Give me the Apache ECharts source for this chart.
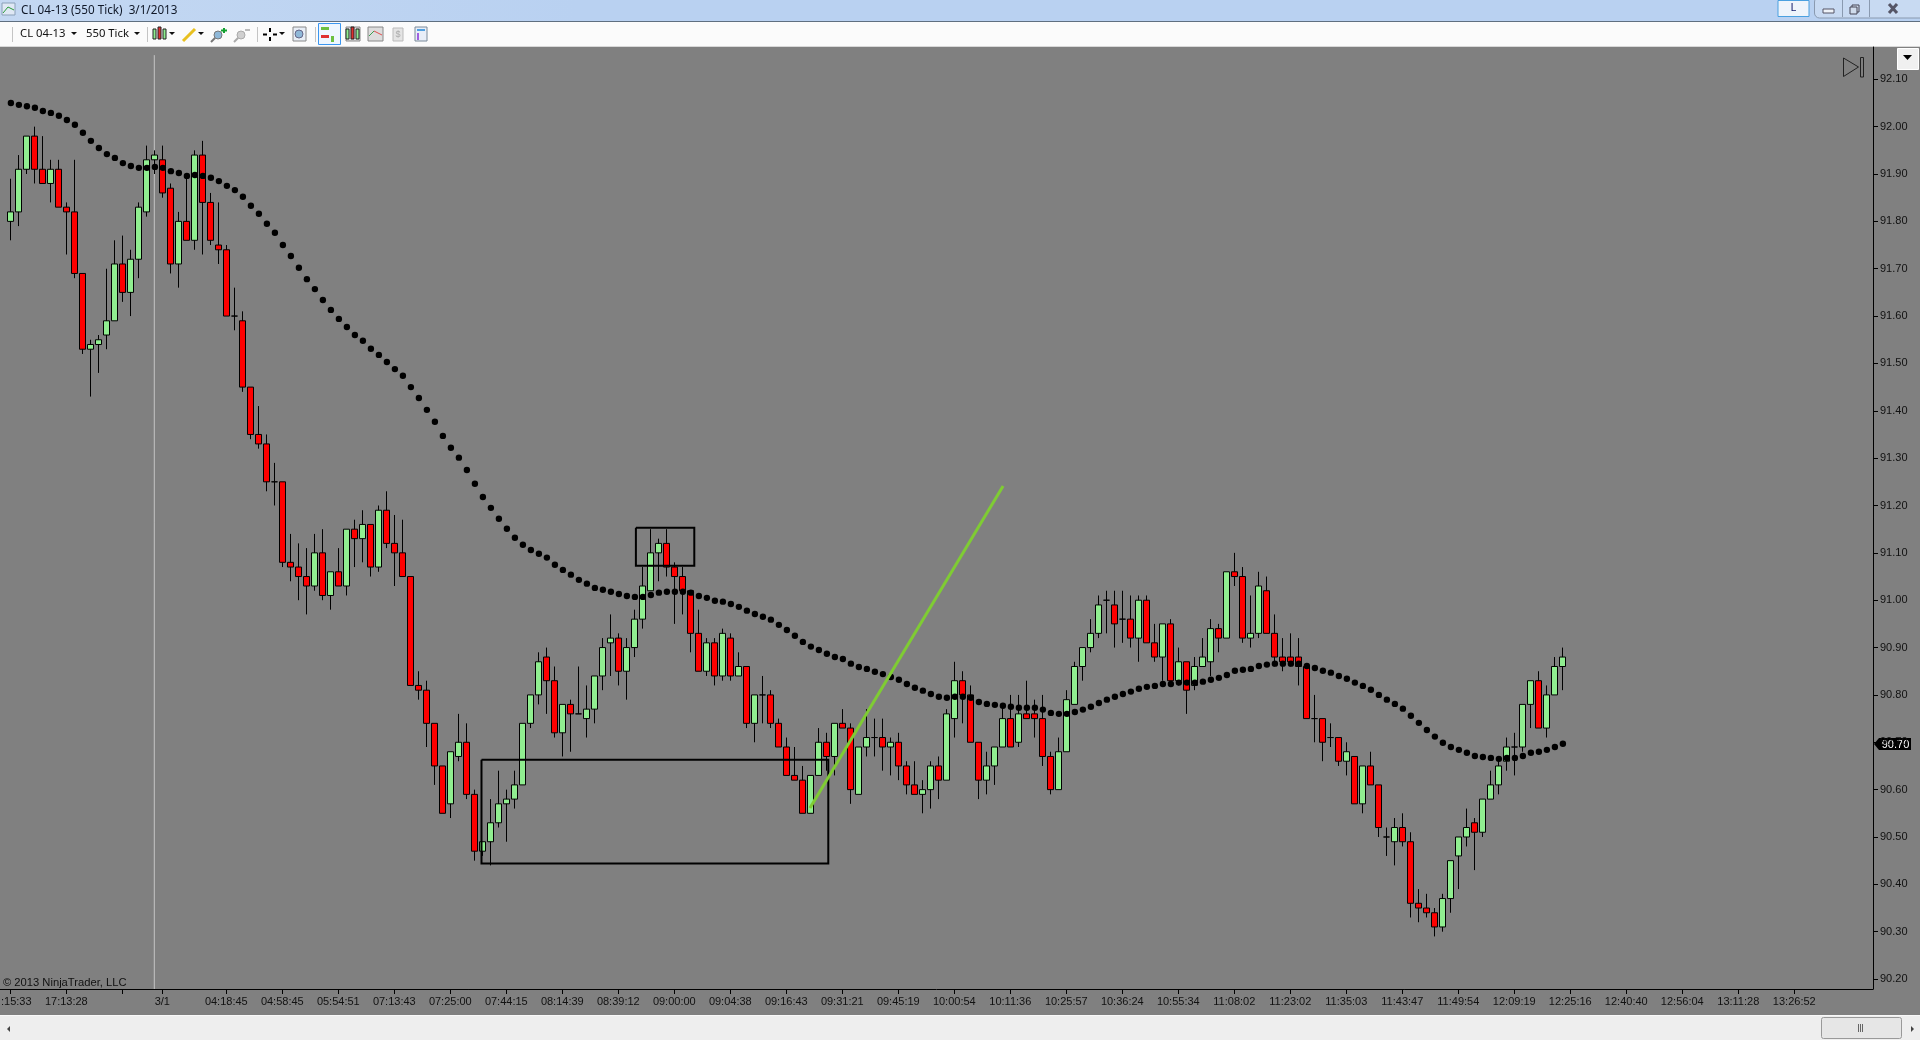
<!DOCTYPE html>
<html><head><meta charset="utf-8"><title>CL 04-13 (550 Tick)</title>
<style>html,body{margin:0;padding:0;background:#808080;overflow:hidden}#c{width:1920px;height:1040px}</style>
<script src="https://cdn.jsdelivr.net/npm/echarts@6/dist/echarts.min.js"></script></head>
<body><div id="c"></div>
<script>
const opens=[91.80,91.82,91.91,91.98,91.91,91.88,91.91,91.83,91.82,91.69,
91.53,91.54,91.56,91.59,91.71,91.65,91.72,91.82,91.93,91.93,
91.87,91.71,91.80,91.76,91.94,91.84,91.75,91.74,91.60,91.59,
91.45,91.35,91.33,91.25,91.25,91.08,91.07,91.05,91.03,91.10,
91.01,91.06,91.03,91.15,91.13,91.16,91.07,91.19,91.12,91.10,
91.05,90.82,90.81,90.74,90.65,90.57,90.67,90.70,90.59,90.47,
90.49,90.53,90.57,90.58,90.61,90.74,90.80,90.88,90.83,90.72,
90.78,90.76,90.75,90.77,90.84,90.91,90.92,90.85,90.90,90.96,
91.02,91.10,91.12,91.07,91.05,91.02,90.93,90.85,90.91,90.84,
90.92,90.84,90.86,90.74,90.80,90.80,90.74,90.69,90.63,90.62,
90.55,90.63,90.70,90.67,90.74,90.73,90.59,90.69,90.71,90.71,
90.69,90.70,90.65,90.61,90.59,90.60,90.65,90.62,90.75,90.83,
90.80,90.70,90.62,90.65,90.69,90.75,90.70,90.76,90.76,90.75,
90.67,90.60,90.68,90.78,90.86,90.90,90.93,91.00,90.99,90.96,
90.96,90.92,91.00,90.91,90.88,90.95,90.83,90.87,90.82,90.86,
90.87,90.94,90.92,91.06,91.05,90.92,90.93,91.02,90.93,90.88,
90.88,90.88,90.86,90.75,90.75,90.71,90.71,90.66,90.67,90.57,
90.65,90.61,90.50,90.49,90.52,90.49,90.36,90.35,90.34,90.31,
90.37,90.46,90.50,90.53,90.51,90.58,90.61,90.66,90.69,90.69,
90.78,90.83,90.73,90.80,90.86];
const closes=[91.82,91.91,91.98,91.91,91.88,91.91,91.83,91.82,91.69,91.53,
91.54,91.55,91.59,91.71,91.65,91.72,91.83,91.93,91.94,91.86,
91.71,91.80,91.76,91.94,91.84,91.76,91.74,91.60,91.60,91.45,
91.35,91.33,91.25,91.25,91.08,91.07,91.05,91.03,91.10,91.01,
91.06,91.03,91.15,91.13,91.16,91.07,91.19,91.12,91.10,91.05,
90.82,90.81,90.74,90.65,90.55,90.68,90.70,90.59,90.47,90.49,
90.53,90.57,90.58,90.61,90.74,90.80,90.87,90.83,90.72,90.78,
90.76,90.76,90.77,90.84,90.90,90.92,90.85,90.90,90.96,91.03,
91.10,91.12,91.07,91.05,91.02,90.93,90.85,90.91,90.84,90.93,
90.84,90.86,90.74,90.80,90.80,90.74,90.69,90.63,90.62,90.55,
90.63,90.70,90.67,90.74,90.73,90.60,90.69,90.71,90.71,90.69,
90.70,90.65,90.61,90.59,90.60,90.65,90.62,90.76,90.83,90.80,
90.70,90.62,90.65,90.69,90.75,90.69,90.76,90.75,90.75,90.67,
90.60,90.68,90.79,90.86,90.90,90.93,90.99,91.00,90.95,90.96,
90.92,91.00,90.91,90.88,90.95,90.83,90.87,90.81,90.86,90.88,
90.94,90.92,91.06,91.05,90.92,90.93,91.03,90.93,90.88,90.87,
90.87,90.86,90.75,90.75,90.70,90.71,90.66,90.68,90.57,90.65,
90.61,90.52,90.50,90.52,90.49,90.36,90.35,90.34,90.31,90.37,
90.45,90.50,90.52,90.51,90.58,90.61,90.65,90.69,90.69,90.78,
90.83,90.73,90.80,90.86,90.88];
const lows=[91.76,91.79,91.90,91.88,91.88,91.84,91.83,91.73,91.68,91.52,
91.43,91.48,91.53,91.59,91.63,91.60,91.68,91.81,91.90,91.85,
91.69,91.66,91.76,91.74,91.73,91.75,91.71,91.60,91.57,91.44,
91.34,91.32,91.23,91.20,91.07,91.04,91.00,90.97,91.02,91.00,
90.98,91.03,91.01,91.07,91.08,91.05,91.06,91.11,91.03,91.05,
90.82,90.79,90.69,90.61,90.55,90.54,90.66,90.58,90.45,90.46,
90.44,90.52,90.49,90.56,90.61,90.73,90.78,90.76,90.71,90.67,
90.68,90.76,90.71,90.74,90.81,90.84,90.82,90.79,90.88,90.94,
91.02,91.04,91.05,90.95,90.97,90.89,90.85,90.84,90.82,90.83,
90.83,90.84,90.73,90.70,90.74,90.73,90.69,90.63,90.62,90.55,
90.55,90.63,90.64,90.63,90.73,90.57,90.59,90.67,90.67,90.64,
90.63,90.62,90.59,90.59,90.55,90.56,90.58,90.62,90.71,90.74,
90.70,90.58,90.59,90.61,90.69,90.69,90.69,90.75,90.71,90.65,
90.59,90.60,90.68,90.78,90.83,90.89,90.92,90.93,90.90,90.91,
90.90,90.87,90.91,90.87,90.83,90.83,90.82,90.76,90.81,90.86,
90.84,90.89,90.92,91.03,90.91,90.90,90.92,90.93,90.86,90.85,
90.86,90.82,90.75,90.70,90.66,90.69,90.65,90.63,90.57,90.55,
90.61,90.50,90.46,90.44,90.48,90.33,90.32,90.33,90.29,90.30,
90.34,90.39,90.48,90.43,90.50,90.58,90.59,90.64,90.63,90.68,
90.73,90.73,90.71,90.80,90.81];
const highs=[91.89,91.94,91.98,92.00,91.98,91.93,91.93,91.84,91.93,91.69,
91.55,91.56,91.70,91.76,91.77,91.74,91.84,91.96,91.95,91.96,
91.88,91.82,91.90,91.95,91.97,91.86,91.84,91.75,91.66,91.61,
91.45,91.41,91.35,91.29,91.25,91.14,91.12,91.11,91.14,91.15,
91.06,91.11,91.15,91.17,91.19,91.16,91.20,91.23,91.18,91.17,
91.05,90.85,90.83,90.74,90.65,90.68,90.76,90.74,90.60,90.49,
90.58,90.64,90.60,90.64,90.74,90.80,90.89,90.90,90.86,90.78,
90.79,90.86,90.82,90.84,90.92,90.97,90.93,90.92,90.98,91.07,
91.15,91.13,91.15,91.08,91.07,91.02,90.98,90.92,90.92,90.94,
90.93,90.89,90.86,90.80,90.84,90.81,90.75,90.71,90.69,90.65,
90.63,90.73,90.72,90.74,90.77,90.74,90.69,90.77,90.75,90.75,
90.71,90.72,90.66,90.66,90.62,90.66,90.67,90.77,90.87,90.85,
90.82,90.70,90.68,90.69,90.78,90.80,90.80,90.83,90.79,90.80,
90.68,90.71,90.81,90.87,90.90,90.96,91.01,91.02,91.02,91.02,
91.01,91.01,91.01,90.95,90.95,90.96,90.90,90.87,90.88,90.92,
90.96,90.95,91.06,91.10,91.07,91.01,91.06,91.05,90.97,90.92,
90.93,90.92,90.86,90.80,90.75,90.74,90.71,90.70,90.67,90.65,
90.68,90.61,90.52,90.54,90.55,90.51,90.39,90.38,90.35,90.38,
90.45,90.50,90.56,90.54,90.58,90.64,90.66,90.71,90.72,90.78,
90.83,90.85,90.82,90.88,90.90];
const movingAverage=[92.05,92.046,92.043,92.04,92.033,92.029,92.023,92.014,92.004,91.987,
91.97,91.955,91.942,91.934,91.923,91.917,91.913,91.913,91.915,91.913,
91.906,91.902,91.896,91.898,91.896,91.892,91.885,91.875,91.866,91.852,
91.833,91.816,91.795,91.776,91.75,91.727,91.702,91.678,91.657,91.634,
91.613,91.594,91.577,91.56,91.548,91.531,91.518,91.503,91.488,91.474,
91.45,91.427,91.402,91.377,91.347,91.322,91.301,91.275,91.246,91.218,
91.195,91.172,91.151,91.132,91.117,91.106,91.098,91.09,91.075,91.064,
91.054,91.043,91.035,91.026,91.022,91.018,91.013,91.009,91.007,91.007,
91.011,91.016,91.018,91.018,91.018,91.016,91.009,91.005,90.999,90.997,
90.992,90.986,90.978,90.971,90.965,90.959,90.948,90.937,90.925,90.912,
90.902,90.895,90.887,90.88,90.876,90.866,90.859,90.855,90.849,90.844,
90.838,90.832,90.823,90.815,90.809,90.802,90.796,90.794,90.796,90.796,
90.794,90.785,90.781,90.779,90.777,90.775,90.773,90.773,90.773,90.769,
90.762,90.76,90.76,90.764,90.769,90.775,90.783,90.79,90.796,90.802,
90.807,90.813,90.817,90.819,90.823,90.823,90.826,90.826,90.826,90.828,
90.832,90.836,90.842,90.851,90.853,90.855,90.861,90.864,90.866,90.866,
90.866,90.866,90.861,90.857,90.851,90.847,90.84,90.834,90.826,90.819,
90.811,90.80,90.79,90.781,90.771,90.756,90.741,90.726,90.712,90.699,
90.69,90.684,90.678,90.671,90.669,90.667,90.665,90.667,90.667,90.671,
90.678,90.68,90.684,90.69,90.697];
const xTickIndex=[0,7,14,19,27,34,41,48,55,62,69,76,83,90,97,104,111,118,125,132,139,146,153,160,167,174,181,188,195,202,209,216,223];
const xTickText=[':15:33','17:13:28','','3/1','04:18:45','04:58:45','05:54:51','07:13:43','07:25:00','07:44:15','08:14:39','08:39:12','09:00:00','09:04:38','09:16:43','09:31:21','09:45:19','10:00:54','10:11:36','10:25:57','10:36:24','10:55:34','11:08:02','11:23:02','11:35:03','11:43:47','11:49:54','12:09:19','12:25:16','12:40:40','12:56:04','13:11:28','13:26:52'];
const yTicks=[92.10,92.00,91.90,91.80,91.70,91.60,91.50,91.40,91.30,91.20,91.10,91.00,90.90,90.80,90.70,90.60,90.50,90.40,90.30,90.20];
const boxLow=[[58.9,90.663],[102.25,90.663],[102.25,90.444],[58.9,90.444],[58.9,90.663]];
const boxHigh=[[78.2,91.153],[85.5,91.153],[85.5,91.073],[78.2,91.073],[78.2,91.153]];
const trendLine=[[99.96,90.561],[124.1,91.241]];
const sessionLine=[[18,92.151],[18,90.179]];
const lastPrice='90.70';

const FONT='"Liberation Sans", Arial, sans-serif';
const UI='"Noto Sans", sans-serif';
const ohlc=opens.map((o,i)=>[i,o,closes[i],lows[i],highs[i]]);
const lineSeries=(data,color,width,z)=>({type:'line',data,showSymbol:false,symbol:'none',silent:true,z,lineStyle:{color,width,cap:'butt',join:'miter'},clip:true});
const rect=(x,y,w,h,fill,stroke,extra)=>Object.assign({type:'rect',silent:true,shape:{x,y,width:w,height:h,r:(extra&&extra.r)||0},style:{fill,stroke:stroke||null,lineWidth:1}},extra&&extra.z?{z:extra.z}:{});
const txt=(x,y,t,font,fill,align)=>({type:'text',silent:true,x,y,style:{text:t,font,fill:fill||'#000',align:align||'left',verticalAlign:'middle'}});
const poly=(pts,fill,stroke)=>({type:'polygon',silent:true,shape:{points:pts},style:{fill,stroke:stroke||null,lineWidth:1}});
const arrow=(x,y)=>poly([[x-3,y-2],[x+3,y-2],[x,y+1]],'#111');
const seg=(x1,y1,x2,y2,c,w)=>({type:'line',silent:true,shape:{x1,y1,x2,y2},style:{stroke:c,lineWidth:w||1}});
const candleIcon=(x,y)=>[
  rect(x,y+3,3,10,'#90ee90','#222'),rect(x+5,y+1,3,12,'#e03030','#222'),rect(x+10,y+3,3,10,'#90ee90','#222')];

const chrome=[
  {type:'rect',silent:true,shape:{x:0,y:0,width:1920,height:21},style:{fill:new echarts.graphic.LinearGradient(0,0,1,0,[{offset:0,color:'#c4d8f2'},{offset:.3,color:'#b9d1f1'},{offset:1,color:'#b9d1f1'}])}},
  rect(0,21,1920,26,'#fbfbfb'),seg(0,21.5,1920,21.5,'#5f6f80',1),seg(0,46.5,1920,46.5,'#d8d8d8',1),
  rect(2,3,13,12,'#dfe8f4','#8aa0b8'),seg(3,13,8,7,'#2a9a3a',1),seg(8,7,14,10,'#2a9a3a',1),
  txt(21,10.5,'CL 04-13 (550 Tick)  3/1/2013','11.7px '+UI,'#101828'),
  seg(12.5,27,12.5,42,'#c4c4c4',1),
  txt(20,33.5,'CL 04-13','11.3px '+UI,'#111'),arrow(74,34),
  txt(86,33.5,'550 Tick','11.3px '+UI,'#111'),arrow(137,34),
  seg(147.5,27,147.5,42,'#c4c4c4',1),
  ...candleIcon(153,26),arrow(172,34),
  seg(183,41,195,29,'#e8c020',3),arrow(201,34),
  {type:'circle',silent:true,shape:{cx:218,cy:35,r:4},style:{fill:'#8fb8d8',stroke:'#777'}},seg(215,38,211,42,'#777',2),seg(224,28,224,33,'#12a030',2),seg(221,30.5,227,30.5,'#12a030',2),
  {type:'circle',silent:true,shape:{cx:241,cy:35,r:4},style:{fill:'#cfcfcf',stroke:'#aaa'}},seg(238,38,234,42,'#aaa',2),seg(245,30,250,30,'#bbb',2),
  seg(257.5,27,257.5,42,'#c4c4c4',1),
  seg(263,34.5,267,34.5,'#000',2),seg(273,34.5,277,34.5,'#000',2),seg(270,28,270,32,'#000',2),seg(270,37,270,41,'#000',2),arrow(282,34),
  rect(293,27,13,14,'#e8eef6','#888'),{type:'circle',silent:true,shape:{cx:299,cy:34,r:4},style:{fill:'#8fb8d8',stroke:'#668'}},
  seg(315.5,27,315.5,42,'#c4c4c4',1),
  rect(318.5,23.5,22,21,'#eef6ff','#3a96f0'),rect(321,27,8,3,'#6cc040'),rect(321,35,8,3,'#e03030'),rect(331,36,3,6,'#6cc040'),
  rect(346,27,14,14,'#ddd','#888'),...candleIcon(346,26),
  rect(368,27,15,14,'#ddd','#888'),seg(369,36,374,31,'#3aa050',1),seg(374,31,382,35,'#e05050',1),
  rect(393,28,10,13,'#e4e4e4','#bbb'),txt(398,35,'$','9px '+FONT,'#aaa','center'),
  rect(415,27,12,14,'#e8eef8','#7a8a9a'),rect(417,29,8,2,'#50a0e0'),rect(417,33,2,7,'#a060e0'),
  rect(1778,0.5,31,16,'#eef4fb','#4aa0e0'),txt(1793.5,8,'L','11px '+UI,'#10186a','center'),
  rect(1814.5,-3,142,21,'#c8daf2','#8a9ab0',{r:5}),seg(1842.5,0,1842.5,17,'#8a9ab0',1),seg(1869.5,0,1869.5,17,'#8a9ab0',1),
  rect(1823,9,11,4,'#eef2f8','#556'),rect(1852,5,7,7,'#d0dcec','#445'),rect(1850,7,7,7,'#d0dcec','#445'),
  seg(1889,4,1897,13,'#556',3),seg(1897,4,1889,13,'#556',3),
  txt(3,983,'\u00a9 2013 NinjaTrader, LLC','11.2px '+FONT,'#111'),
  poly([[1843.5,58],[1858.5,67],[1843.5,76.5]],null,'#222'),rect(1860.5,57.5,3,19.5,null,'#222'),
  rect(1897.5,48.5,21,21,'#f0f0f0','#fff'),poly([[1903,55],[1912,55],[1907.5,60]],'#000'),
  poly([[1874,744],[1879,738],[1911,738],[1911,750],[1879,750]],'#000'),
  txt(1895.5,744.5,lastPrice,'11px '+FONT,'#fff','center'),
  rect(0,1016,1920,24,'#eeeeee'),seg(0,1015.5,1920,1015.5,'#f8f8f8',1),poly([[10,1026],[7,1029],[10,1032]],'#444'),
  rect(1821.5,1017.5,80,21,'#e6e6e6','#999',{r:2}),seg(1858.5,1024,1858.5,1032,'#666',1),seg(1860.5,1024,1860.5,1032,'#666',1),seg(1862.5,1024,1862.5,1032,'#666',1),poly([[1911,1026],[1914,1029],[1911,1032]],'#444')
];

const chart=echarts.init(document.getElementById('c'),null,{renderer:'canvas',width:1920,height:1040});
chart.setOption({
  animation:false,backgroundColor:'#808080',
  grid:{left:0,right:47,top:47,bottom:51,containLabel:false,outerBoundsMode:'none'},
  xAxis:{type:'value',min:-1.2875,max:232.84,splitLine:{show:false},
    axisLine:{show:true,onZero:false,lineStyle:{color:'#000',width:1}},
    axisTick:{show:true,length:5,customValues:xTickIndex,lineStyle:{color:'#000',width:1}},
    axisLabel:{customValues:xTickIndex,margin:7,hideOverlap:false,color:'#111',fontFamily:FONT,fontSize:11,
      formatter:v=>{const t=xTickText[xTickIndex.indexOf(v)];return v===0?'{first|'+t+'}':t;},
      rich:{first:{padding:[0,0,0,12],fontFamily:FONT,fontSize:11,color:'#111'}}}},
  yAxis:{type:'value',position:'right',min:90.179,max:92.1682,scale:true,splitLine:{show:false},
    axisLine:{show:true,onZero:false,lineStyle:{color:'#000',width:1}},
    axisTick:{show:true,length:5,customValues:yTicks,lineStyle:{color:'#000',width:1}},
    axisLabel:{customValues:yTicks,margin:7,padding:[2,0,0,0],color:'#111',fontFamily:FONT,fontSize:11,formatter:v=>v.toFixed(2)}},
  series:[
    lineSeries(sessionLine,'#c4c4c4',1,1),
    {type:'candlestick',data:ohlc,encode:{x:0,y:[1,2,3,4]},barWidth:6,silent:true,z:2,
      itemStyle:{color:'#90ee90',color0:'#ff0000',borderColor:'#000',borderColor0:'#000',borderColorDoji:'#000',borderWidth:1}},
    {type:'scatter',data:movingAverage.map((v,i)=>[i,v]),symbol:'circle',symbolSize:6.4,silent:true,z:3,itemStyle:{color:'#000',opacity:1},symbolOffset:[0.6,0]},
    lineSeries(boxLow,'#000',2,4),
    lineSeries(boxHigh,'#000',2,4),
    lineSeries(trendLine,'#7fcc33',3,5)
  ],
  graphic:{elements:chrome}
});
</script></body></html>
